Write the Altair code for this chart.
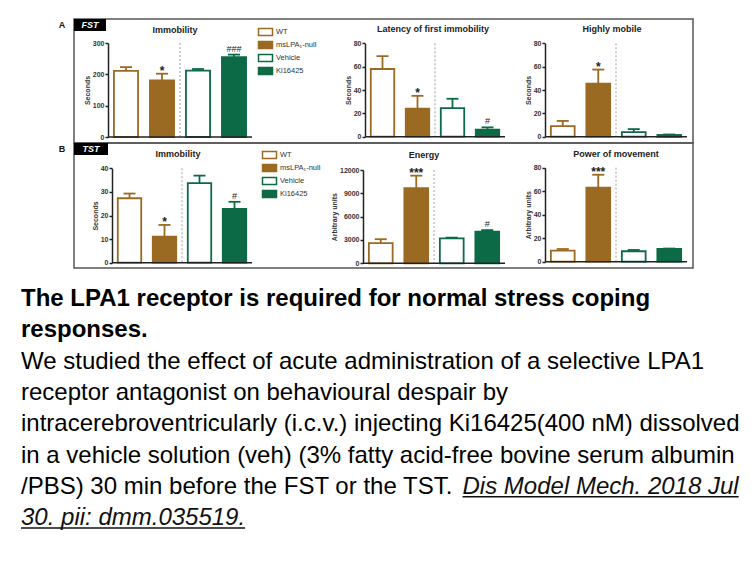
import altair as alt
import pandas as pd

FONT = "Liberation Sans, Arial, Helvetica, sans-serif"
OFF = 8  # page margin: chart coordinates = page coordinates - 8

# ---------------- data ----------------
GROUPS = ["WT", "msLPA\u2081-null", "Vehicle", "Ki16425"]
BROWN = "#9a6a23"
GREEN = "#0c6a46"
FILLS = ["#ffffff", BROWN, "#ffffff", GREEN]
EDGES = [BROWN, BROWN, GREEN, GREEN]

panel_titles = ["Immobility", "Latency of first immobility", "Highly mobile",
                "Immobility", "Energy", "Power of movement"]
y_titles = ["Seconds", "Seconds", "Seconds", "Seconds", "Arbitrary units", "Arbitrary units"]
y_max = [300, 80, 80, 40, 12000, 80]
y_ticks = [[0, 100, 200, 300], [0, 20, 40, 60, 80], [0, 20, 40, 60, 80],
           [0, 10, 20, 30, 40], [0, 3000, 6000, 9000, 12000], [0, 20, 40, 60, 80]]

fst_immobility_mean = [211, 181, 212, 255]
fst_immobility_sem = [12, 21, 5, 8]
fst_immobility_sig = ["", "*", "", "###"]
fst_latency_mean = [58, 24, 24.5, 6]
fst_latency_sem = [11, 11, 8, 2]
fst_latency_sig = ["", "*", "", "#"]
fst_mobile_mean = [9, 45.5, 4, 1.5]
fst_mobile_sem = [4.5, 12, 2.5, 0.4]
fst_mobile_sig = ["", "*", "", ""]
tst_immobility_mean = [27.3, 11, 33.7, 22.8]
tst_immobility_sem = [2, 5, 3.2, 3]
tst_immobility_sig = ["", "*", "", "#"]
tst_energy_mean = [2600, 9650, 3200, 4070]
tst_energy_sem = [500, 1620, 100, 200]
tst_energy_sig = ["", "***", "", "#"]
tst_power_mean = [9.4, 63, 8.9, 10.8]
tst_power_sem = [1.4, 11, 1.1, 0.4]
tst_power_sig = ["", "***", "", ""]

means = [fst_immobility_mean, fst_latency_mean, fst_mobile_mean,
         tst_immobility_mean, tst_energy_mean, tst_power_mean]
sems = [fst_immobility_sem, fst_latency_sem, fst_mobile_sem,
        tst_immobility_sem, tst_energy_sem, tst_power_sem]
sigs = [fst_immobility_sig, fst_latency_sig, fst_mobile_sig,
        tst_immobility_sig, tst_energy_sig, tst_power_sig]

caption_bold = ["The LPA1 receptor is required for normal stress coping", "responses."]
caption_body = ["We studied the effect of acute administration of a selective LPA1",
                "receptor antagonist on behavioural despair by",
                "intracerebroventricularly (i.c.v.) injecting Ki16425(400 nM) dissolved",
                "in a vehicle solution (veh) (3% fatty acid-free bovine serum albumin",
                "/PBS) 30 min before the FST or the TST."]
caption_link = ["Dis Model Mech. 2018 Jul", "30. pii: dmm.035519."]

# ---------------- layout (page pixels) ----------------
LAYOUT = [
    dict(x=(108, 252), y=(137, 43), t=(175, 30)),
    dict(x=(365, 505), y=(136.7, 43.3), t=(433, 29)),
    dict(x=(545, 687), y=(136.7, 43.3), t=(612, 29)),
    dict(x=(112, 252), y=(262.7, 168.3), t=(178, 154)),
    dict(x=(363, 505), y=(263.3, 170), t=(424, 155)),
    dict(x=(545, 687), y=(261.7, 167.7), t=(616, 154)),
]
# (left edge of swatches, centre of first row)
LEGEND_AT = {0: (258, 32), 3: (262, 155)}

TEXT_X = 21
LINE_BASE0 = 306
LINE_STEP = 31.3
FS = 24
PREFIX_EM = 18.397   # width of "/PBS) 30 min before the FST or the TST. " in em (Arial metrics)
LINK1_EM = 11.504
LINK2_EM = 9.338


def one():
    return pd.DataFrame({"k": [0]})


def panel_layers(i):
    lay = LAYOUT[i]
    x0, x1 = lay["x"][0] - OFF, lay["x"][1] - OFF
    yb, yt = lay["y"][0] - OFF, lay["y"][1] - OFF
    df = pd.DataFrame({
        "grp": GROUPS,
        "mean": means[i],
        "top": [m + s for m, s in zip(means[i], sems[i])],
        "sig": sigs[i],
    })
    xs = alt.Scale(type="band", domain=GROUPS, range=[x0, x1], paddingInner=0.33, paddingOuter=0.165)
    ys = alt.Scale(domain=[0, y_max[i]], range=[yb, yt], nice=False, zero=True)
    X = alt.X("grp:N", scale=xs, axis=None)

    if i in LEGEND_AT:
        lx, ly = LEGEND_AT[i]
        leg = alt.Legend(orient="none", legendX=lx - OFF + 3, legendY=ly - 4.5 - OFF, title=None,
                         symbolType="M-2,-1H2V1H-2Z", symbolSize=49, symbolStrokeWidth=1.5,
                         labelFont=FONT, labelFontSize=7.5, labelColor="#333", rowPadding=0,
                         labelOffset=6, padding=0)
    else:
        leg = None
    fill = alt.Fill("grp:N", scale=alt.Scale(domain=GROUPS, range=FILLS), legend=leg)
    stroke = alt.Stroke("grp:N", scale=alt.Scale(domain=GROUPS, range=EDGES), legend=leg)
    col = alt.Color("grp:N", scale=alt.Scale(domain=GROUPS, range=EDGES), legend=None)

    yaxis = alt.Axis(orient="left", offset=-x0, values=y_ticks[i], format="d",
                     tickSize=3, tickWidth=1.5, tickColor="#222", domainColor="#222", domainWidth=1.5,
                     labelFont=FONT, labelFontSize=7, labelFontWeight="bold", labelColor="#333",
                     labelPadding=1, labelFlush=False, labelOverlap=False,
                     title=y_titles[i], titleFont=FONT, titleFontSize=7, titleFontWeight="bold",
                     titleColor="#333", titlePadding=2, grid=False)

    layers = []
    bars = alt.Chart(df).mark_bar(strokeWidth=1.8).encode(
        x=X, y=alt.Y("mean:Q", scale=ys, axis=yaxis), fill=fill, stroke=stroke)
    err = alt.Chart(df).mark_rule(strokeWidth=1.8).encode(
        x=X, y=alt.Y("mean:Q", scale=ys, axis=None), y2="top:Q", color=col)
    cap = alt.Chart(df).mark_tick(size=12, thickness=1.8, opacity=1).encode(
        x=X, y=alt.Y("top:Q", scale=ys, axis=None), color=col)
    layers += [bars, err, cap]

    star_df = df[df["sig"].str.contains("*", regex=False)]
    if len(star_df):
        layers.append(alt.Chart(star_df).mark_text(
            font=FONT, fontSize=12, fontWeight="bold", baseline="alphabetic", dy=1, color="#222").encode(
            x=X, y=alt.Y("top:Q", scale=ys, axis=None), text="sig:N"))
    hash_df = df[df["sig"].str.contains("#", regex=False)]
    if len(hash_df):
        layers.append(alt.Chart(hash_df).mark_text(
            font=FONT, fontSize=9, baseline="alphabetic", dy=-3, color="#222").encode(
            x=X, y=alt.Y("top:Q", scale=ys, axis=None), text="sig:N"))

    xq = alt.Scale(domain=[0, 4], range=[x0, x1])
    sep_df = pd.DataFrame({"pos": [2], "lo": [0], "hi": [y_max[i]]})
    layers.append(alt.Chart(sep_df).mark_rule(strokeDash=[2, 2], color="#a0a0a0", strokeWidth=1).encode(
        x=alt.X("pos:Q", scale=xq, axis=None), y=alt.Y("hi:Q", scale=ys, axis=None), y2="lo:Q"))
    base_df = pd.DataFrame({"a": [0], "b": [4], "z": [0]})
    layers.append(alt.Chart(base_df).mark_rule(color="#222", strokeWidth=1.5).encode(
        x=alt.X("a:Q", scale=xq, axis=None), x2="b:Q", y=alt.Y("z:Q", scale=ys, axis=None)))

    tx, ty = lay["t"]
    layers.append(alt.Chart(one()).mark_text(
        font=FONT, fontSize=9, fontWeight="bold", align="center", baseline="middle", color="#222").encode(
        x=alt.value(tx - OFF), y=alt.value(ty - OFF), text=alt.value(panel_titles[i])))
    return layers


layers = []

# frames and row labels
frames = pd.DataFrame({"x": [74, 74], "x2": [693, 693], "y": [19, 143], "y2": [143, 268]})
for c in ["x", "x2", "y", "y2"]:
    frames[c] = frames[c] - OFF
layers.append(alt.Chart(frames).mark_rect(fill="transparent", stroke="#555", strokeWidth=1.5).encode(
    x=alt.X("x:Q", scale=None), x2="x2:Q", y=alt.Y("y:Q", scale=None), y2="y2:Q"))
tags = pd.DataFrame({"x": [74, 74], "x2": [106, 108], "y": [19, 143], "y2": [31, 155],
                     "lab": ["FST", "TST"], "letter": ["A", "B"], "lx": [62, 62]})
for c in ["x", "x2", "y", "y2", "lx"]:
    tags[c] = tags[c] - OFF
tags["cx"] = (tags["x"] + tags["x2"]) / 2
tags["cy"] = (tags["y"] + tags["y2"]) / 2
layers.append(alt.Chart(tags).mark_rect(fill="#000").encode(
    x=alt.X("x:Q", scale=None), x2="x2:Q", y=alt.Y("y:Q", scale=None), y2="y2:Q"))
layers.append(alt.Chart(tags).mark_text(font=FONT, fontSize=9, fontWeight="bold", fontStyle="italic",
                                        color="#fff", align="center", baseline="middle").encode(
    x=alt.X("cx:Q", scale=None), y=alt.Y("cy:Q", scale=None), text="lab:N"))
layers.append(alt.Chart(tags).mark_text(font=FONT, fontSize=9, fontWeight="bold",
                                        color="#111", align="center", baseline="middle").encode(
    x=alt.X("lx:Q", scale=None), y=alt.Y("cy:Q", scale=None), text="letter:N"))

for i in range(6):
    layers += panel_layers(i)

# caption
cap_rows = []
for k, t in enumerate(caption_bold):
    cap_rows.append(dict(txt=t, x=TEXT_X - OFF, y=LINE_BASE0 + k * LINE_STEP - OFF, kind="bold"))
for k, t in enumerate(caption_body):
    cap_rows.append(dict(txt=t, x=TEXT_X - OFF, y=LINE_BASE0 + (k + 2) * LINE_STEP - OFF, kind="body"))
link_x = [TEXT_X + PREFIX_EM * FS, TEXT_X]
link_w = [LINK1_EM * FS, LINK2_EM * FS]
for k, t in enumerate(caption_link):
    cap_rows.append(dict(txt=t, x=link_x[k] - OFF, y=LINE_BASE0 + (k + 6) * LINE_STEP - OFF, kind="link"))
capdf = pd.DataFrame(cap_rows)

layers.append(alt.Chart(capdf[capdf.kind == "bold"]).mark_text(
    font=FONT, fontSize=FS, fontWeight="bold", align="left", baseline="alphabetic", color="#000").encode(
    x=alt.X("x:Q", scale=None), y=alt.Y("y:Q", scale=None), text="txt:N"))
layers.append(alt.Chart(capdf[capdf.kind == "body"]).mark_text(
    font=FONT, fontSize=FS, align="left", baseline="alphabetic", color="#000").encode(
    x=alt.X("x:Q", scale=None), y=alt.Y("y:Q", scale=None), text="txt:N"))
layers.append(alt.Chart(capdf[capdf.kind == "link"]).mark_text(
    font=FONT, fontSize=FS, fontStyle="italic", align="left", baseline="alphabetic", color="#111").encode(
    x=alt.X("x:Q", scale=None), y=alt.Y("y:Q", scale=None), text="txt:N"))

ul = pd.DataFrame({"x": [link_x[k] - OFF for k in range(2)],
                   "x2": [link_x[k] + link_w[k] - OFF for k in range(2)],
                   "y": [LINE_BASE0 + (k + 6) * LINE_STEP + 3 - OFF for k in range(2)]})
layers.append(alt.Chart(ul).mark_rule(color="#111", strokeWidth=1.5).encode(
    x=alt.X("x:Q", scale=None), x2="x2:Q", y=alt.Y("y:Q", scale=None)))

chart = alt.layer(*layers).resolve_scale(
    x="independent", y="independent", fill="independent", stroke="independent", color="independent"
).resolve_legend(fill="independent", stroke="independent").properties(
    width=740, height=551, padding=0, autosize=alt.AutoSizeParams(type="none")
).configure_view(stroke="transparent")

chart.save("out.html", embed_options={"renderer": "svg", "actions": False})
